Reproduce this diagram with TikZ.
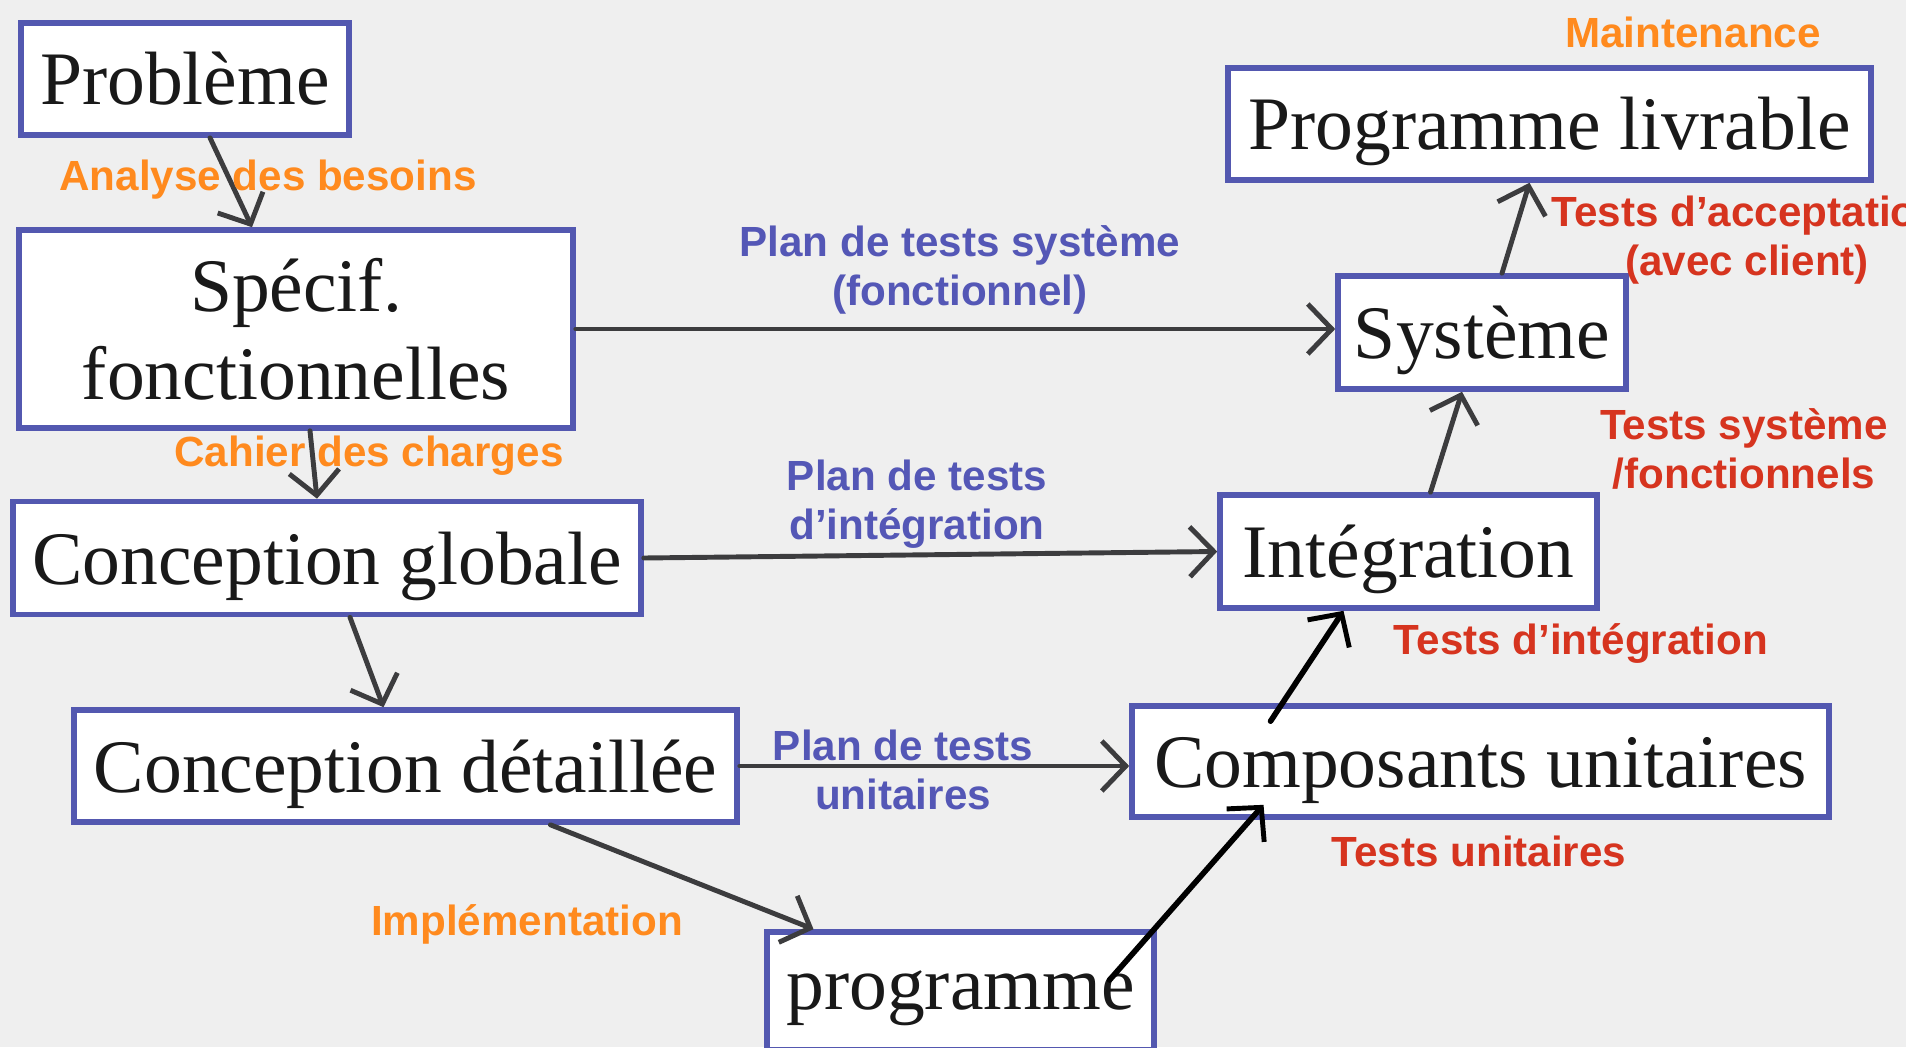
\documentclass[tikz,border=0pt]{standalone}
\usepackage{fontspec}
\setmainfont{Liberation Serif}
\newfontfamily\lblfont{Liberation Sans}
\usetikzlibrary{arrows.meta}

\definecolor{boxblue}{HTML}{5358B0}
\definecolor{planblue}{HTML}{5457B6}
\definecolor{phaseorange}{HTML}{FF8A1E}
\definecolor{testred}{HTML}{D6341F}
\definecolor{arrowgray}{HTML}{3C3C3E}
\definecolor{paper}{HTML}{EFEFEF}

\tikzset{
  boite/.style={draw=boxblue, fill=white, line width=1.6pt, inner sep=0pt,
    text=black!90, align=center, font=\fontsize{21.5}{25}\selectfont},
  etape/.style={boite, text height=0.70cm, text depth=0.18cm},
  lbl/.style={align=center, inner sep=0pt, font=\lblfont\bfseries\fontsize{12}{14}\selectfont},
  phase/.style={lbl, text=phaseorange},
  plan/.style={lbl, text=planblue},
  tests/.style={lbl, text=testred},
  flow/.style={draw=arrowgray, line width=1.4pt, line cap=round,
    -{Straight Barb[length=2.4mm,width=5mm,line width=1.4pt]}},
  flowk/.style={flow, draw=black, line width=1.6pt}
}

\begin{document}
\begin{tikzpicture}
\useasboundingbox (0,0) rectangle (19.06,10.47);
\clip (0,0) rectangle (19.06,10.47);
\fill[paper] (0,0) rectangle (19.06,10.47);

% descente
\node[etape, minimum width=3.28cm, minimum height=1.12cm] (prob) at (1.85, 9.68) {Problème};
\node[boite, minimum width=5.54cm, minimum height=1.98cm] (spec) at (2.96, 7.18) {Spécif.\\fonctionnelles};
\node[etape, minimum width=6.28cm, minimum height=1.13cm] (cglob) at (3.27, 4.89) {Conception globale};
\node[etape, minimum width=6.63cm, minimum height=1.12cm] (cdet) at (4.055, 2.81) {Conception détaillée};
\node[etape, text height=0.54cm, minimum width=3.87cm, minimum height=1.18cm] (prog) at (9.605, 0.56) {programme};
% remontee
\node[etape, minimum width=6.97cm, minimum height=1.11cm] (comp) at (14.805, 2.855) {Composants unitaires};
\node[etape, minimum width=3.77cm, minimum height=1.13cm] (integ) at (14.085, 4.955) {Intégration};
\node[etape, minimum width=2.88cm, minimum height=1.13cm] (sys) at (14.82, 7.145) {Système};
\node[etape, minimum width=6.43cm, minimum height=1.12cm] (livr) at (15.495, 9.23) {Programme livrable};

% fleches
\draw[flow] ([xshift=0.25cm]prob.south) -- ([xshift=-0.44cm]spec.north);
\draw[flow] ([xshift=0.14cm]spec.south) -- ([xshift=-0.10cm]cglob.north);
\draw[flow] ([xshift=0.23cm]cglob.south) -- ([xshift=-0.22cm]cdet.north);
\draw[flow] ([xshift=1.45cm]cdet.south) -- ([xshift=-1.47cm]prog.north);
\draw[flowk] ([shift={(1.49,0.11)}]prog.center) -- ([shift={(-2.17,0.15)}]comp.south);
\draw[flowk] ([shift={(-2.10,-0.18)}]comp.north) -- ([xshift=-0.65cm]integ.south);
\draw[flow] ([xshift=0.22cm]integ.north) -- ([xshift=-0.20cm]sys.south);
\draw[flow] ([xshift=0.20cm]sys.north) -- ([xshift=-0.20cm]livr.south);
\draw[flow] (spec.east) -- (spec.east -| sys.west);
\draw[flow] (cglob.east) -- (integ.west);
\draw[flow] (cdet.east) -- (cdet.east -| comp.west);

% etiquettes
\node[phase] (besoins) at (2.68, 8.67) {Analyse des besoins};
\node[phase] (cahier) at (3.69, 5.91) {Cahier des charges};
\node[phase] (implem) at (5.27, 1.23) {Implémentation};
\node[phase] (maint) at (16.93, 10.15) {Maintenance};
\node[plan] (plansys) at (9.60, 7.77) {Plan de tests système\\(fonctionnel)};
\node[plan] (planint) at (9.17, 5.43) {Plan de tests\\d’intégration};
\node[plan] (planunit) at (9.03, 2.77) {Plan de tests\\unitaires};
\node[tests] (tacc) at (17.47, 8.07) {Tests d’acceptation\\(avec client)};
\node[tests] (tsys) at (17.44, 5.98) {Tests système\\/fonctionnels};
\node[tests] (tint) at (15.81, 4.04) {Tests d’intégration};
\node[tests] (tunit) at (14.79, 1.96) {Tests unitaires};
\end{tikzpicture}
\end{document}
